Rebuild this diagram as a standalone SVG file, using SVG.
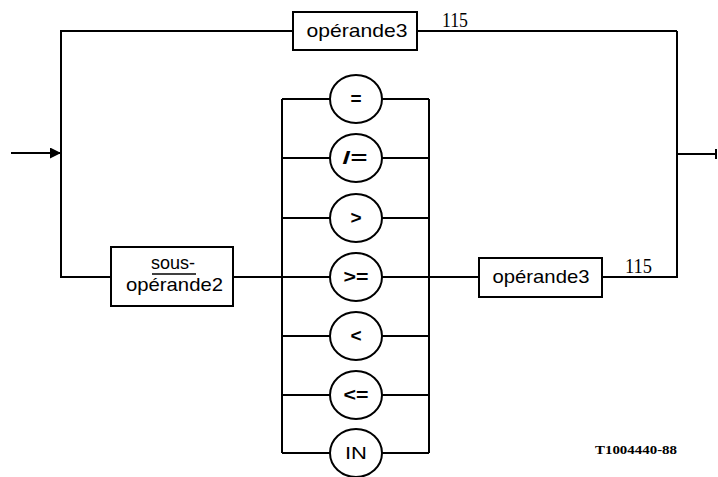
<svg xmlns="http://www.w3.org/2000/svg" width="718" height="477" viewBox="0 0 718 477">
<style>
.ln{fill:none;stroke:#000;stroke-width:2}
.bx{fill:#fff;stroke:#000;stroke-width:2}
.t{font-family:"Liberation Sans",Arial,sans-serif;font-size:19px;fill:#000}
.op{font-family:"Liberation Sans",Arial,sans-serif;font-size:19px;font-weight:bold;fill:#000;text-anchor:middle}
.in{font-family:"Liberation Sans",Arial,sans-serif;font-size:17px;fill:#000;text-anchor:middle}
.n{font-family:"Liberation Serif","Times New Roman",serif;font-size:20px;fill:#000}
.ref{font-family:"Liberation Serif","Times New Roman",serif;font-size:13px;font-weight:bold;fill:#000}
</style>
<defs>
<marker id="ah" markerWidth="12" markerHeight="12" refX="11" refY="5.5" orient="auto" markerUnits="userSpaceOnUse">
<path d="M0,0 L11,5.5 L0,11 Z" fill="#000"/>
</marker>
</defs>
<rect width="718" height="477" fill="#fff"/>
<g id="connectors">
<line class="ln" x1="11" y1="153" x2="61" y2="153" marker-end="url(#ah)"/>
<polyline class="ln" points="293,31 61,31 61,277 111,277"/>
<line class="ln" x1="417" y1="31" x2="677" y2="31"/>
<polyline class="ln" points="602,277 677,277 677,31"/>
<line class="ln" x1="677" y1="154" x2="716" y2="154"/>
<line class="ln" x1="716" y1="149" x2="716" y2="159"/>
<line class="ln" x1="233" y1="277" x2="330" y2="277"/>
<line class="ln" x1="429" y1="277" x2="479" y2="277"/>
<line class="ln" x1="282" y1="99" x2="282" y2="453"/>
<line class="ln" x1="429" y1="99" x2="429" y2="453"/>
<path class="ln" d="M282,99H330M382,99H429M282,158H330M382,158H429M282,218H330M382,218H429M382,277H429M282,336H330M382,336H429M282,395H330M382,395H429M282,453H330M382,453H429"/>
</g>
<g id="op3-top">
<rect class="bx" x="293" y="12" width="124" height="38"/>
<text class="t" x="357" y="37" text-anchor="middle" textLength="101" lengthAdjust="spacingAndGlyphs">opérande3</text>
</g>
<text class="n" x="442" y="27" textLength="26" lengthAdjust="spacingAndGlyphs">115</text>
<g id="sous-operande2">
<rect class="bx" x="111" y="247" width="122" height="59"/>
<text class="t" x="173" y="269" text-anchor="middle" textLength="44" lengthAdjust="spacingAndGlyphs">sous-</text>
<line x1="152" y1="274" x2="196" y2="274" stroke="#000" stroke-width="1.5"/>
<text class="t" x="174.5" y="291" text-anchor="middle" textLength="97" lengthAdjust="spacingAndGlyphs">opérande2</text>
</g>
<g id="op-eq"><ellipse class="bx" cx="356" cy="99" rx="26" ry="24"/><text class="op" x="356" y="105">=</text></g>
<g id="op-ne"><ellipse class="bx" cx="356" cy="158" rx="26" ry="24"/><text class="op" x="355" y="164" textLength="25" lengthAdjust="spacingAndGlyphs">/=</text></g>
<g id="op-gt"><ellipse class="bx" cx="356" cy="218" rx="26" ry="24"/><text class="op" x="356" y="224">&gt;</text></g>
<g id="op-ge"><ellipse class="bx" cx="356" cy="277" rx="26" ry="24"/><text class="op" x="356" y="283" textLength="25" lengthAdjust="spacingAndGlyphs">&gt;=</text></g>
<g id="op-lt"><ellipse class="bx" cx="356" cy="336" rx="26" ry="24"/><text class="op" x="356" y="342">&lt;</text></g>
<g id="op-le"><ellipse class="bx" cx="356" cy="395" rx="26" ry="24"/><text class="op" x="356" y="401" textLength="25" lengthAdjust="spacingAndGlyphs">&lt;=</text></g>
<g id="op-in"><ellipse class="bx" cx="356" cy="453" rx="26" ry="24"/><text class="in" x="356" y="459" textLength="22" lengthAdjust="spacingAndGlyphs">IN</text></g>
<g id="op3-bottom">
<rect class="bx" x="479" y="258" width="123" height="39"/>
<text class="t" x="541" y="283" text-anchor="middle" textLength="97" lengthAdjust="spacingAndGlyphs">opérande3</text>
</g>
<text class="n" x="625" y="273" textLength="27" lengthAdjust="spacingAndGlyphs">115</text>
<text class="ref" x="595" y="454" textLength="82" lengthAdjust="spacingAndGlyphs">T1004440-88</text>
</svg>
